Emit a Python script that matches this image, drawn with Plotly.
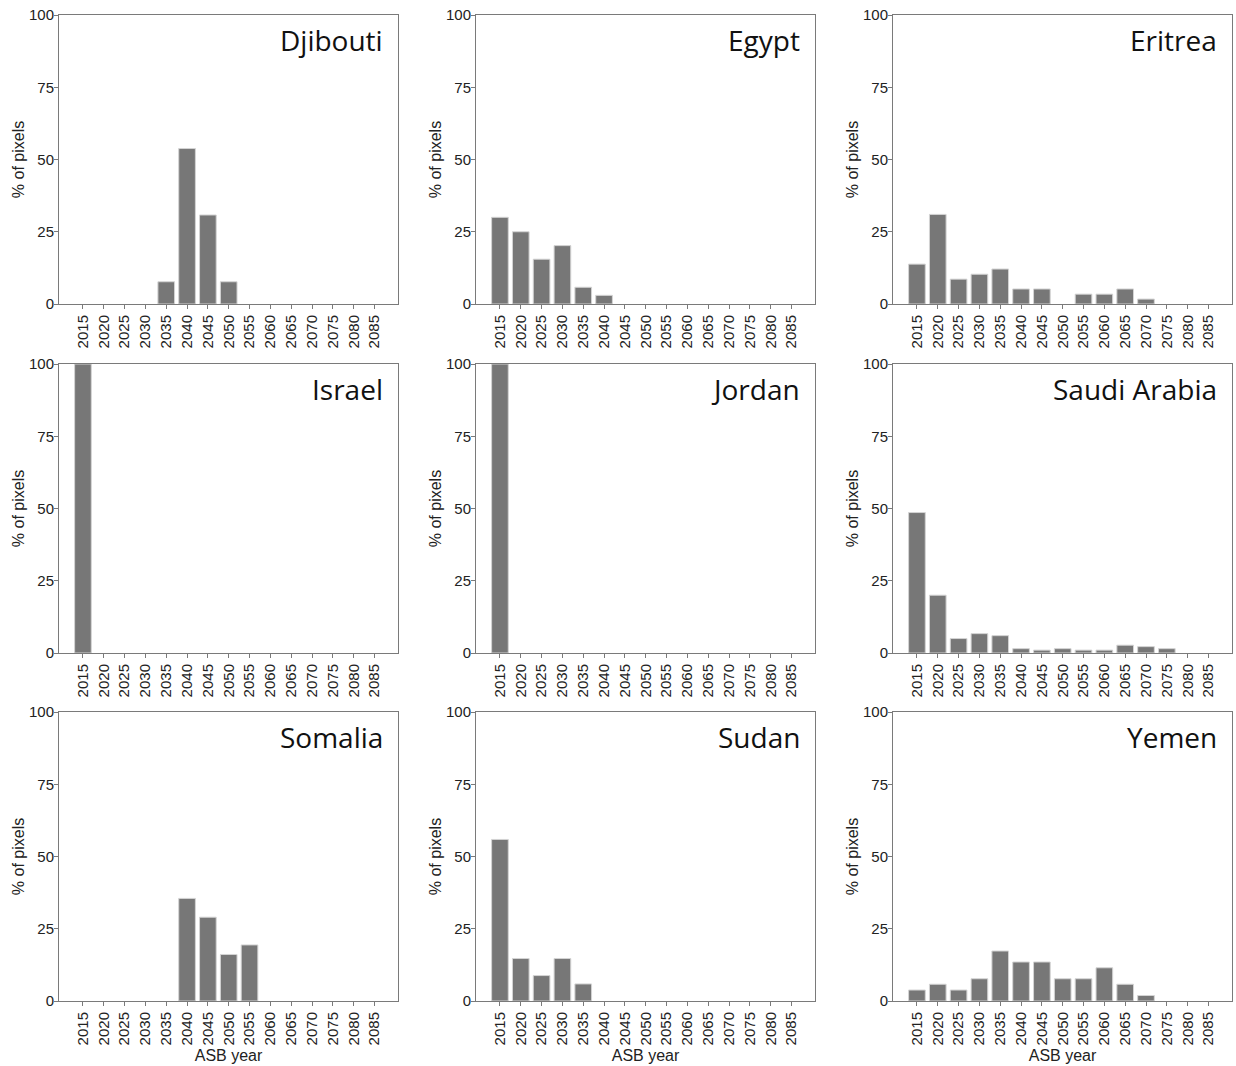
import plotly.graph_objects as go

years = ["2015", "2020", "2025", "2030", "2035", "2040", "2045", "2050",
         "2055", "2060", "2065", "2070", "2075", "2080", "2085"]

countries = ["Djibouti", "Egypt", "Eritrea", "Israel", "Jordan", "Saudi Arabia",
             "Somalia", "Sudan", "Yemen"]

djibouti = [0, 0, 0, 0, 7.7, 53.8, 30.8, 7.7, 0, 0, 0, 0, 0, 0, 0]
egypt = [30.0, 25.0, 15.5, 20.2, 5.8, 3.0, 0, 0, 0, 0, 0, 0, 0, 0, 0]
eritrea = [13.8, 31.0, 8.6, 10.3, 12.1, 5.2, 5.2, 0, 3.4, 3.4, 5.2, 1.7, 0, 0, 0]
israel = [100, 0, 0, 0, 0, 0, 0, 0, 0, 0, 0, 0, 0, 0, 0]
jordan = [100, 0, 0, 0, 0, 0, 0, 0, 0, 0, 0, 0, 0, 0, 0]
saudi_arabia = [48.6, 20.0, 5.0, 6.7, 6.0, 1.5, 1.0, 1.5, 1.0, 1.0, 2.7, 2.2, 1.5, 0, 0]
somalia = [0, 0, 0, 0, 0, 35.5, 29.0, 16.1, 19.4, 0, 0, 0, 0, 0, 0]
sudan = [55.9, 14.7, 8.8, 14.7, 5.9, 0, 0, 0, 0, 0, 0, 0, 0, 0, 0]
yemen = [3.8, 5.8, 3.8, 7.7, 17.3, 13.5, 13.5, 7.7, 7.7, 11.5, 5.8, 1.9, 0, 0, 0]

series = [djibouti, egypt, eritrea, israel, jordan, saudi_arabia, somalia, sudan, yemen]

y_ticks = [0, 25, 50, 75, 100]

W, H = 1236, 1066
col_px = [(59, 398), (476, 815), (893, 1232)]
row_px = [(15, 304), (364, 653), (712, 1001)]

fig = go.Figure()
layout = dict(
    width=W, height=H,
    margin=dict(l=0, r=0, t=0, b=0, autoexpand=False),
    paper_bgcolor="white", plot_bgcolor="white",
    showlegend=False,
    font=dict(family="Liberation Sans, Arial, sans-serif", color="#222222"),
    annotations=[],
)

for i, (name, vals) in enumerate(zip(countries, series)):
    r, c = divmod(i, 3)
    n = i + 1
    xa = "x" if n == 1 else f"x{n}"
    ya = "y" if n == 1 else f"y{n}"
    fig.add_trace(go.Bar(
        x=years, y=vals, xaxis=xa, yaxis=ya,
        marker=dict(color="#777777",
                    line=dict(color="#d4d4d4", width=[1 if v > 0 else 0 for v in vals])),
        width=0.8,
    ))
    x0, x1 = col_px[c]
    y0, y1 = row_px[r]
    layout[f"xaxis{'' if n == 1 else n}"] = dict(
        domain=[x0 / W, x1 / W], anchor=ya, automargin=False,
        type="category", range=[-1.15, 15.13],
        showline=True, linecolor="#7a7a7a", linewidth=1, mirror=True,
        ticks="outside", ticklen=4, tickcolor="#7a7a7a",
        tickangle=-90, tickfont=dict(size=15, color="#222222"),
        showgrid=False, zeroline=False, fixedrange=True,
        title=dict(text="ASB year" if r == 2 else "", font=dict(size=16, color="#222222"), standoff=5),
    )
    layout[f"yaxis{'' if n == 1 else n}"] = dict(
        domain=[1 - y1 / H, 1 - y0 / H], anchor=xa, automargin=False,
        range=[0, 100], tickvals=y_ticks,
        showline=True, linecolor="#7a7a7a", linewidth=1, mirror=True,
        ticks="outside", ticklen=4, tickcolor="#7a7a7a", ticklabelstandoff=-3,
        tickfont=dict(size=15, color="#222222"),
        showgrid=False, zeroline=False, fixedrange=True,
        title=dict(text="% of pixels", font=dict(size=16, color="#222222"), standoff=0),
    )
    layout["annotations"].append(dict(
        text=name, xref=f"{xa} domain", yref=f"{ya} domain",
        x=0.962, y=0.913, xanchor="right", yanchor="middle",
        showarrow=False, font=dict(family="Open Sans, sans-serif", size=28, color="#111111"),
    ))

fig.update_layout(**layout)
fig.write_html("out.html", config={"displayModeBar": False},
               post_script="document.body.style.margin='0';")
